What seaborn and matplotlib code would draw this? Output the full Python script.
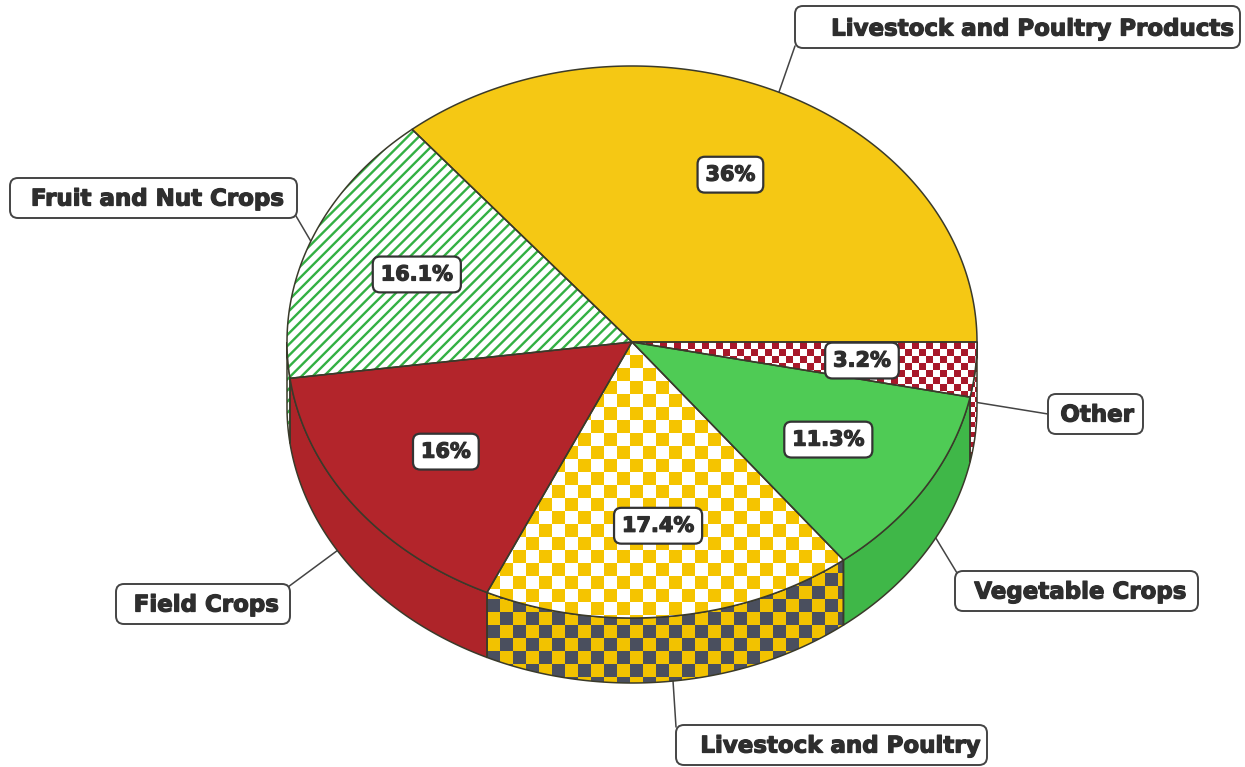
import numpy as np
import matplotlib
matplotlib.use("Agg")
import matplotlib.pyplot as plt
import matplotlib.patheffects as pe
import seaborn as sns
from matplotlib.patches import Polygon, FancyBboxPatch
from matplotlib.colors import to_rgb

# Share of farm cash receipts by commodity group (percent)
categories = ["Livestock and Poultry Products", "Fruit and Nut Crops", "Field Crops",
              "Livestock and Poultry", "Vegetable Crops", "Other"]
shares = [36.0, 16.1, 16.0, 17.4, 11.3, 3.2]
pct_labels = ["36%", "16.1%", "16%", "17.4%", "11.3%", "3.2%"]

sns.set_theme(style="white")
plt.rcParams["font.family"] = ["DejaVu Sans"]
plt.rcParams["hatch.linewidth"] = 1.7

W, H = 1245, 767
fig = plt.figure(figsize=(W / 100, H / 100), dpi=100)
fig.patch.set_facecolor("white")
ax = fig.add_axes([0, 0, 1, 1])

CX, CY, RX, RY, DEPTH = 632, 342, 345, 276, 65
EDGE = "#3a3a2a"
TXT = "#2e2e2e"
HEAVY = [pe.withStroke(linewidth=0.9, foreground=TXT)]

# slice looks: (kind, top colours, side colours)
styles = [
    ("solid", ("#F5C814",), ("#F5C814",)),
    ("hatch", ("white", "#33B043"), ("white", "#33B043")),
    ("solid", ("#B3252B",), ("#AE2429",)),
    ("checker", ("#F5C400", "white", 13), ("#F2C200", "#4A4F5E", 13)),
    ("solid", ("#4FCB55",), ("#3FB748",)),
    ("checker", ("#A8182A", "white", 7), ("#A8182A", "white", 5)),
]

# category label boxes: (x0, y0, x1, y1), text centre, box attach point
label_boxes = [
    ((795, 6, 1240, 48), (1032, 29), (795, 46)),
    ((10, 178, 297, 218), (157, 199), (296, 216)),
    ((116, 584, 290, 624), (206, 605), (288, 587)),
    ((676, 725, 987, 765), (840, 746), (676, 727)),
    ((955, 571, 1198, 611), (1080, 592), (957, 573)),
    ((1048, 394, 1143, 434), (1097, 415), (1048, 414)),
]


def ell(theta_deg, dy=0.0, r=1.0):
    t = np.radians(theta_deg)
    return np.column_stack([CX + r * RX * np.cos(t), CY - r * RY * np.sin(t) + dy])


def checker_fill(pts, c1, c2, cell, z):
    clip = Polygon(pts, closed=True, facecolor="none", edgecolor="none", zorder=z)
    ax.add_patch(clip)
    x0, y0 = np.floor(pts[:, 0].min()), np.floor(pts[:, 1].min())
    nx = int(np.ceil((pts[:, 0].max() - x0) / cell)) + 1
    ny = int(np.ceil((pts[:, 1].max() - y0) / cell)) + 1
    ii, jj = np.indices((ny, nx))
    mask = ((ii + jj) % 2 == 0)[..., None]
    img = np.where(mask, np.array(to_rgb(c1)), np.array(to_rgb(c2)))
    im = ax.imshow(img, extent=(x0, x0 + nx * cell, y0 + ny * cell, y0), origin="upper",
                   interpolation="nearest", zorder=z, aspect="auto")
    im.set_clip_path(clip)


def fill_region(pts, kind, cols, z):
    if kind == "solid":
        ax.add_patch(Polygon(pts, closed=True, facecolor=cols[0], edgecolor="none", zorder=z))
    elif kind == "hatch":
        ax.add_patch(Polygon(pts, closed=True, facecolor=cols[0], edgecolor=cols[1],
                             hatch="///", linewidth=0, zorder=z))
    else:
        checker_fill(pts, cols[0], cols[1], cols[2], z)
    ax.add_patch(Polygon(pts, closed=True, facecolor="none", edgecolor=EDGE,
                         linewidth=1.1, zorder=z + 0.5))


bounds = np.concatenate([[0.0], np.cumsum(shares)]) / sum(shares) * 360.0

# visible side wall (front half of the disc)
for i, (kind, top_cols, side_cols) in enumerate(styles):
    a, b = max(bounds[i], 180.0), min(bounds[i + 1], 360.0)
    if a < b:
        th = np.linspace(a, b, 200)
        pts = np.vstack([ell(th), ell(th[::-1], DEPTH)])
        fill_region(pts, kind, side_cols, 2)

# top face wedges
for i, (kind, top_cols, side_cols) in enumerate(styles):
    th = np.linspace(bounds[i], bounds[i + 1], 300)
    pts = np.vstack([[CX, CY], ell(th)])
    fill_region(pts, kind, top_cols, 3)

# percentage labels on each wedge
for i, lab in enumerate(pct_labels):
    mid = (bounds[i] + bounds[i + 1]) / 2
    x, y = ell(mid, r=0.67)[0]
    ax.text(x, y, lab, ha="center", va="center", fontsize=15, fontweight="bold", color=TXT,
            zorder=6, path_effects=HEAVY,
            bbox=dict(boxstyle="round,pad=0.38,rounding_size=0.35", facecolor="white",
                      edgecolor="#333333", linewidth=1.6))

# category labels with leader lines
for i, name in enumerate(categories):
    mid = (bounds[i] + bounds[i + 1]) / 2
    front = 180.0 <= mid <= 360.0
    ax_pt = ell(mid, DEPTH / 2 if front else 0.0)[0]
    (x0, y0, x1, y1), (tx, ty), (lx, ly) = label_boxes[i]
    ax.plot([ax_pt[0], lx], [ax_pt[1], ly], color="#444444", linewidth=1.1, zorder=1)
    ax.add_patch(FancyBboxPatch((x0, y0), x1 - x0, y1 - y0,
                                boxstyle="round,pad=0,rounding_size=8",
                                facecolor="white", edgecolor="#444444", linewidth=1.4, zorder=6))
    ax.text(tx, ty, name, ha="center", va="center", fontsize=16.5, fontweight="bold",
            color=TXT, zorder=7, path_effects=HEAVY)

ax.set_xlim(0, W)
ax.set_ylim(H, 0)
ax.axis("off")
fig.savefig("out.png", dpi=100, facecolor="white")
